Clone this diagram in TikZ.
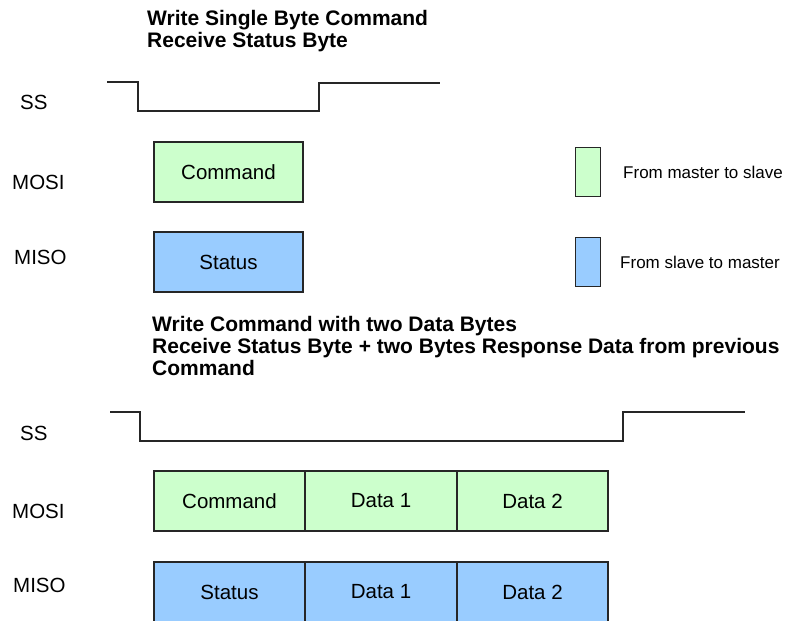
\documentclass[tikz,border=0pt]{standalone}
\usepackage{fontspec}
\setmainfont{Liberation Sans}
\usepackage{xcolor}
\usetikzlibrary{positioning}

\definecolor{mosigreen}{HTML}{CCFFCC}
\definecolor{misoblue}{HTML}{99CCFF}

\begin{document}
\begin{tikzpicture}[x=1pt, y=-1pt,
            frame/.style={rectangle, draw=black!85, line width=1.2pt, outer sep=0pt, inner sep=0pt, minimum height=60pt, font=\fontsize{20.5}{24}\selectfont},
            mosibox/.style={frame, fill=mosigreen},
            misobox/.style={frame, fill=misoblue},
            keybox/.style={rectangle, draw=black!85, line width=1.2pt, inner sep=0pt, minimum width=25pt, minimum height=49pt, anchor=north west},
            title/.style={anchor=north west, inner sep=0pt, align=left, font=\bfseries\fontsize{21}{22}\selectfont},
            signame/.style={anchor=west, inner sep=0pt, font=\fontsize{20.5}{24}\selectfont},
            keytext/.style={anchor=west, inner sep=0pt, font=\fontsize{17}{20}\selectfont},
            sig/.style={draw=black!85, line width=1.4pt}
        ]
            \useasboundingbox (0,0) rectangle (790,621);

            \node[title] (head1) at (147,10) {Write Single Byte Command\\Receive Status Byte};

            \node[signame] (ss1) at (20,102) {SS};
            \node[signame] (mosi1) at (12,182) {MOSI};
            \node[signame] (miso1) at (14,257) {MISO};

            \coordinate (ssa) at (107,82);
            \coordinate (ssb) at (440,83);
            \draw[sig] (ssa) -- (138,82) -- (138,111) -- (319,111) -- (319,83) -- (ssb);

            \node[mosibox, minimum width=149pt, anchor=north west] (cmd1) at (154,142) {Command};
            \node[misobox, minimum width=149pt, anchor=north west] (stat1) at (154,232) {Status};

            \node[keybox, fill=mosigreen] (keymosi) at (575,147) {};
            \node[keybox, fill=misoblue] (keymiso) at (575,237) {};
            \node[keytext] (keymositxt) at (623,172) {From master to slave};
            \node[keytext] (keymisotxt) at (620,262) {From slave to master};

            \node[title] (head2) at (152,316) {Write Command with two Data Bytes\\Receive Status Byte + two Bytes Response Data from previous\\Command};

            \node[signame] (ss2) at (20,433) {SS};
            \node[signame] (mosi2) at (12,511) {MOSI};
            \node[signame] (miso2) at (13,585) {MISO};

            \coordinate (ssc) at (110,412);
            \coordinate (ssd) at (745,412);
            \draw[sig] (ssc) -- (140,412) -- (140,441) -- (623,441) -- (623,412) -- (ssd);

            \node[mosibox, minimum width=151pt, anchor=north west] (cmd2) at (154,471) {Command};
            \node[mosibox, minimum width=152pt, right=0pt of cmd2] (mdat1) {Data 1};
            \node[mosibox, minimum width=151pt, right=0pt of mdat1] (mdat2) {Data 2};

            \node[misobox, minimum width=151pt, anchor=north west] (stat2) at (154,562) {Status};
            \node[misobox, minimum width=152pt, right=0pt of stat2] (sdat1) {Data 1};
            \node[misobox, minimum width=151pt, right=0pt of sdat1] (sdat2) {Data 2};

        \end{tikzpicture}
\end{document}
